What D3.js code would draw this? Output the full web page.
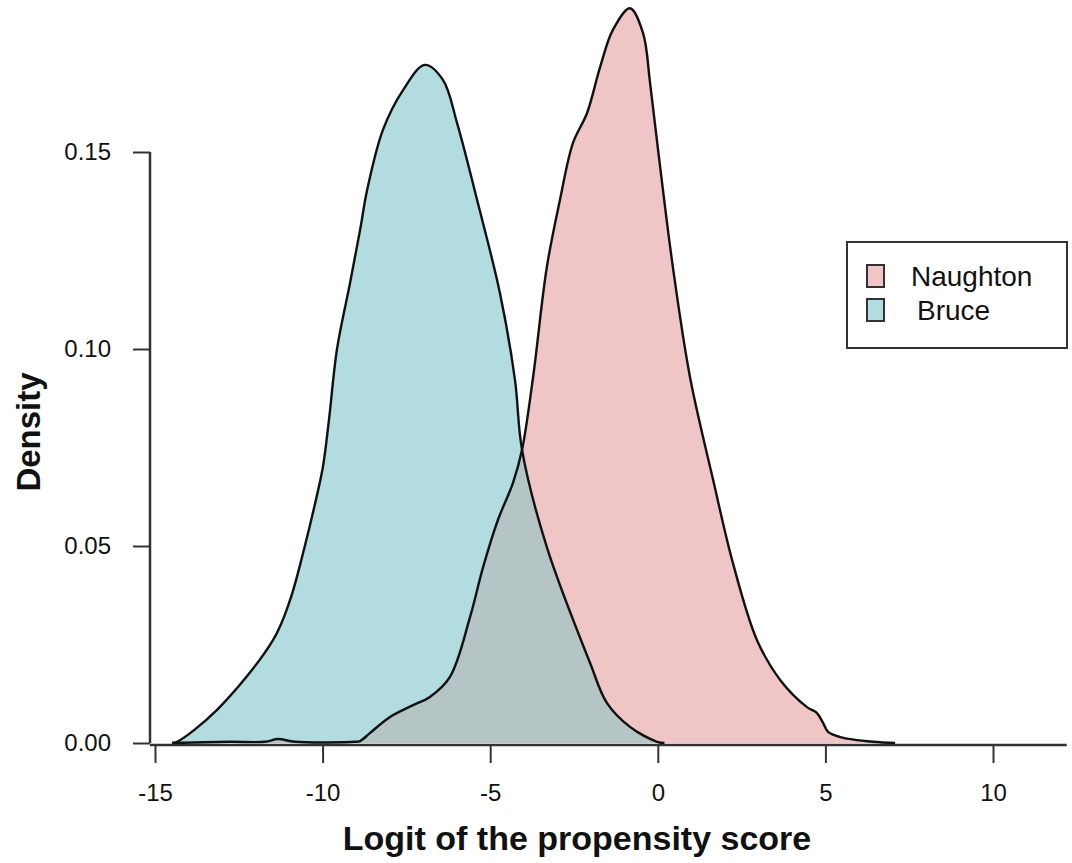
<!DOCTYPE html>
<html>
<head>
<meta charset="utf-8">
<script src="https://cdn.jsdelivr.net/npm/d3@7"></script>
<style>
  html, body { margin: 0; padding: 0; background: #ffffff; }
  svg { display: block; }
  text { font-family: "Liberation Sans", Arial, sans-serif; fill: #111; }
</style>
</head>
<body>
<svg id="chart" width="1072" height="863"></svg>
<script>
// ---- Data ----
const bruceX = [-14.49, -14.34, -13.15, -11.48, -10.97, -10.53, -10.20, -9.99, -9.81, -9.57, -9.18, -8.88, -8.67, -8.20, -7.60, -6.95, -6.41, -5.99, -5.39, -4.71, -4.26, -4.05, -3.31, -2.02, -1.52, -0.83, -0.02, 0.20];
const bruceY = [0, 0.0003, 0.0084, 0.0261, 0.0363, 0.0500, 0.0617, 0.0701, 0.0820, 0.1000, 0.1168, 0.1303, 0.1404, 0.1556, 0.1657, 0.1721, 0.1683, 0.1574, 0.1378, 0.1142, 0.0921, 0.0744, 0.0497, 0.0203, 0.0102, 0.0041, 0.0003, 0];

const naughtonX = [-14.49, -12.76, -11.72, -11.33, -10.82, -9.03, -8.88, -8.59, -7.99, -7.30, -6.80, -6.20, -5.60, -5.21, -4.77, -4.32, -4.05, -3.72, -3.31, -2.92, -2.53, -2.11, -1.72, -1.34, -0.83, -0.44, -0.23, 0.07, 0.45, 0.96, 1.65, 2.24, 2.96, 3.65, 4.45, 4.75, 4.93, 5.08, 5.44, 6.42, 7.08];
const naughtonY = [0, 0.0003, 0.0003, 0.001, 0.0003, 0.0003, 0.0005, 0.0025, 0.0066, 0.0096, 0.0117, 0.0168, 0.0320, 0.0447, 0.0566, 0.0660, 0.0744, 0.0929, 0.1208, 0.1378, 0.1523, 0.1599, 0.1716, 0.1810, 0.1865, 0.1802, 0.1675, 0.1462, 0.1208, 0.0929, 0.0668, 0.0457, 0.0261, 0.0160, 0.0091, 0.0076, 0.0051, 0.0028, 0.0015, 0.0003, 0];

const xTicks = [-15, -10, -5, 0, 5, 10];
const yTicks = [0, 0.05, 0.10, 0.15];
const seriesNames = ["Naughton", "Bruce"];
const xTitle = "Logit of the propensity score";
const yTitle = "Density";

// ---- Styles ----
const colors = { Naughton: "#F0C5C5", Bruce: "#B2DCDF", overlap: "#B5C4C4" };

const svg = d3.select("#chart");

const x = d3.scaleLinear().domain([-15, 10]).range([155, 993]);
const y = d3.scaleLinear().domain([0, 0.15]).range([743, 152]);

const bruce = bruceX.map((v, i) => ({ x: v, y: bruceY[i] }));
const naughton = naughtonX.map((v, i) => ({ x: v, y: naughtonY[i] }));

const curve = d3.curveCatmullRom.alpha(0.5);
const area = d3.area().x(d => x(d.x)).y0(y(0)).y1(d => Math.min(y(d.y), y(0))).curve(curve);
const line = d3.line().x(d => x(d.x)).y(d => y(d.y)).curve(curve);

// clip for overlap
svg.append("defs").append("clipPath").attr("id", "nclip")
  .append("path").attr("d", area(naughton));

svg.append("path").attr("d", area(bruce)).attr("fill", colors.Bruce);
svg.append("path").attr("d", area(naughton)).attr("fill", colors.Naughton);
svg.append("path").attr("d", area(bruce)).attr("fill", colors.overlap).attr("clip-path", "url(#nclip)");

// X axis
const xAxisG = svg.append("g").attr("transform", `translate(0,${y(0) + 2})`);
xAxisG.append("line")
  .attr("x1", x(-15.15)).attr("x2", x(12.2)).attr("y1", 0).attr("y2", 0)
  .attr("stroke", "#333").attr("stroke-width", 2.5);
const xAxis = d3.axisBottom(x).tickValues(xTicks).tickSize(18).tickPadding(21)
  .tickFormat(d => d3.format("d")(d).replace("−", "-"));
const xa = xAxisG.append("g").call(xAxis);
xa.select(".domain").remove();
xa.selectAll(".tick line").attr("stroke", "#333").attr("stroke-width", 2);
xa.selectAll(".tick text").style("font-size", "24px").style("font-family", "'Liberation Sans', Arial, sans-serif").attr("fill", "#111");

// Y axis
const yAxis = d3.axisLeft(y).tickValues(yTicks).tickSize(17).tickPadding(22)
  .tickFormat(d3.format(".2f"));
const ya = svg.append("g").attr("transform", `translate(150,0)`).call(yAxis);
ya.select(".domain").attr("stroke", "#333").attr("stroke-width", 2.5).attr("d", `M0,${y(0.15)}V${y(0)}`);
ya.selectAll(".tick line").attr("stroke", "#333").attr("stroke-width", 2);
ya.selectAll(".tick text").style("font-size", "24px").style("font-family", "'Liberation Sans', Arial, sans-serif").attr("fill", "#111");

// outlines
svg.append("path").attr("d", line(bruce)).attr("fill", "none").attr("stroke", "#111").attr("stroke-width", 2.4);
svg.append("path").attr("d", line(naughton)).attr("fill", "none").attr("stroke", "#111").attr("stroke-width", 2.4);

// Titles
svg.append("text").attr("x", 577).attr("y", 850).attr("text-anchor", "middle")
  .style("font-size", "34px").style("font-weight", "bold").text(xTitle);
svg.append("text").attr("transform", "translate(40,432) rotate(-90)").attr("text-anchor", "middle")
  .style("font-size", "33px").style("font-weight", "bold").text(yTitle);

// Legend
const lg = svg.append("g");
lg.append("rect").attr("x", 847).attr("y", 242).attr("width", 220).attr("height", 106)
  .attr("fill", "#fff").attr("stroke", "#333").attr("stroke-width", 2);
seriesNames.forEach((name, i) => {
  const yy = 265 + i * 34;
  lg.append("rect").attr("x", 867).attr("y", yy).attr("width", 17).attr("height", 22)
    .attr("fill", colors[name]).attr("stroke", "#333").attr("stroke-width", 2);
  lg.append("text").attr("x", i === 0 ? 911 : 917).attr("y", yy + 21)
    .style("font-size", "28px").text(name);
});
</script>
</body>
</html>
